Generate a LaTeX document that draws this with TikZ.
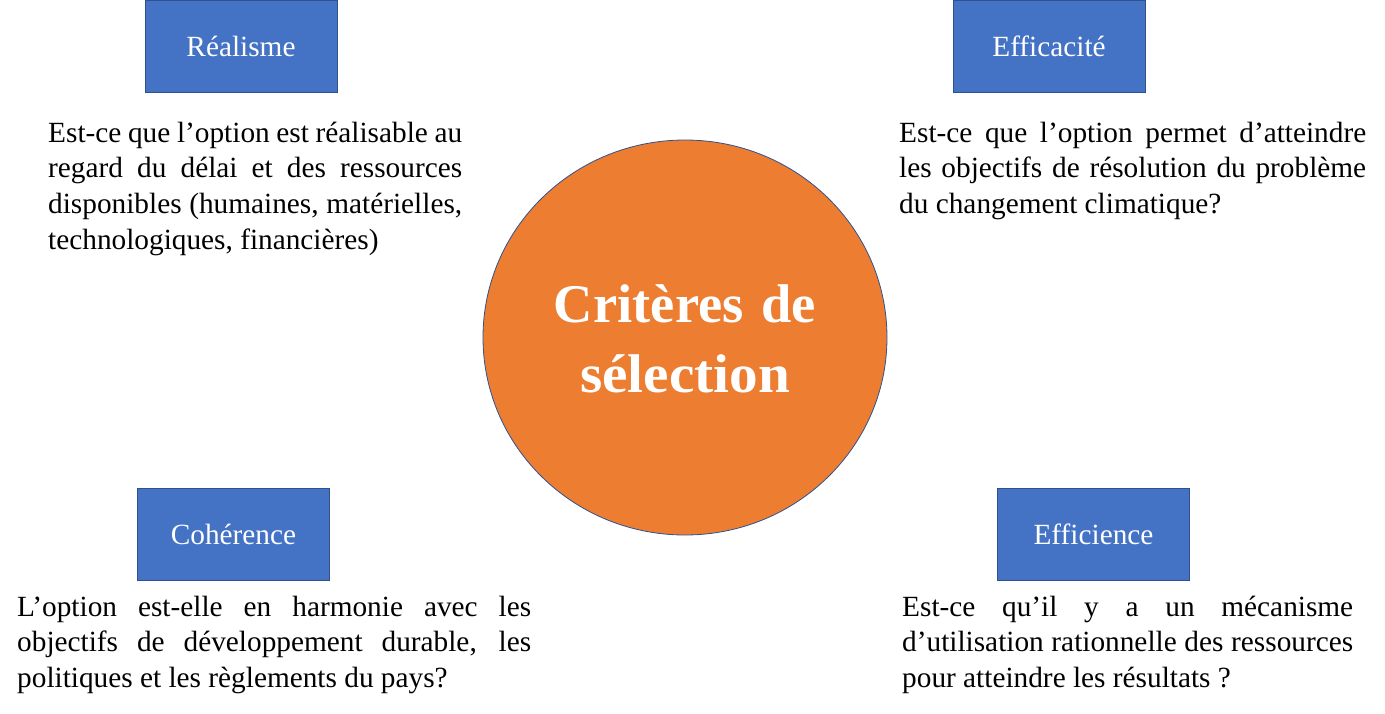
\documentclass[tikz,border=0pt]{standalone}
\usepackage{fontspec}
\setmainfont{Liberation Serif}
\usetikzlibrary{shapes.geometric}
\definecolor{boxblue}{HTML}{4472C4}
\definecolor{edgeblue}{HTML}{2F528F}
\definecolor{circorange}{HTML}{ED7D31}
\newcommand\jline[2]{\makebox[#1][s]{#2}}
\begin{document}
\begin{tikzpicture}[x=1pt,y=-1pt,
  crit/.style={draw=edgeblue, line width=0.8pt, fill=boxblue, text=white,
    minimum width=192pt, minimum height=92pt, inner sep=0pt,
    font=\fontsize{29.3}{35}\selectfont},
  body/.style={anchor=base west, inner sep=0pt, align=left,
    font=\fontsize{29.3}{35.7}\selectfont}]
\useasboundingbox (0,0) rectangle (1385,713);
\fill[white] (0,0) rectangle (1385,713);

% central circle
\node[ellipse, draw=edgeblue, line width=0.8pt, fill=circorange,
  minimum width=404pt, minimum height=395pt, inner sep=0pt] (centre) at (685,337.5) {};
\node[anchor=base, inner sep=0pt, text width=400pt, align=center, text=white,
  font=\fontsize{54.5}{70.5}\selectfont\bfseries] (titre) at (685,322)
  {\spaceskip=0pt\relax Critères de\\\scalebox{1.05}[1]{sélection}};

% criteria boxes
\node[crit] (realisme) at (241,46) {Réalisme};
\node[crit] (efficacite) at (1049,46) {Efficacité};
\node[crit] (coherence) at (233.5,534.5) {Cohérence};
\node[crit] (efficience) at (1093.5,534.5) {Efficience};

% descriptions
\node[body, text width=414pt] (trealisme) at (48,142) {\spaceskip=0pt\relax
\jline{414pt}{Est-ce que l’option est réalisable au}\\
\jline{414pt}{regard du délai et des ressources}\\
\jline{414pt}{disponibles (humaines, matérielles,}\\
technologiques, financières)};

\node[body, text width=467pt] (tefficacite) at (899,142) {\spaceskip=0pt\relax
\jline{467pt}{Est-ce que l’option permet d’atteindre}\\
\jline{467pt}{les objectifs de résolution du problème}\\
du changement climatique?};

\node[body, text width=514pt] (tcoherence) at (17,616) {\spaceskip=0pt\relax
\jline{514pt}{L’option est-elle en harmonie avec les}\\
\jline{514pt}{objectifs de développement durable, les}\\
politiques et les règlements du pays?};

\node[body, text width=451pt] (tefficience) at (902,616) {\spaceskip=0pt\relax
\jline{451pt}{Est-ce qu’il y a un mécanisme}\\
\jline{451pt}{d’utilisation rationnelle des ressources}\\
pour atteindre les résultats ?};
\end{tikzpicture}
\end{document}
